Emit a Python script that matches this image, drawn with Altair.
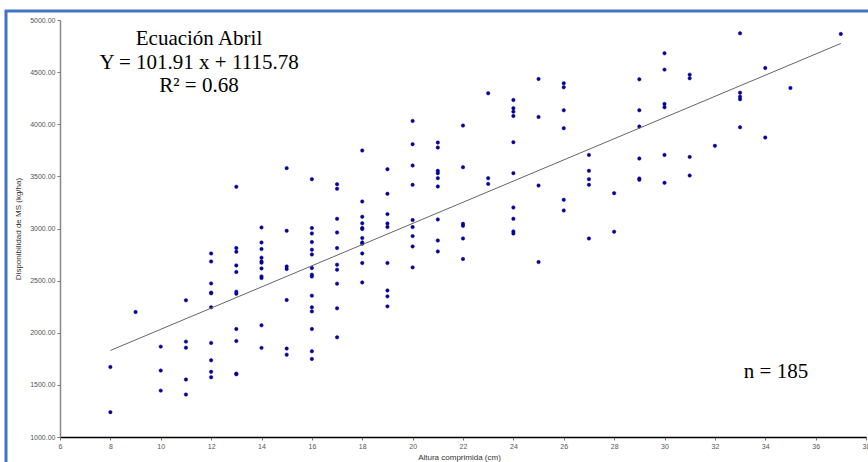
import altair as alt
import pandas as pd

# ---- data ----
col_x = [8, 9, 10, 11, 12, 13, 14, 15, 16, 17, 18, 19, 20, 21, 22, 23, 24, 25,
         26, 27, 28, 29, 30, 31, 32, 33, 34, 35, 37]
col_y = [
    [1672, 1238],
    [2199],
    [1867, 1637, 1445],
    [2311, 1915, 1857, 1551, 1407],
    [2761, 2684, 2473, 2385, 2378, 2244, 1902, 1736, 1625, 1573],
    [3400, 2812, 2777, 2646, 2583, 2394, 2375, 2036, 1921, 1608, 1602],
    [3010, 2866, 2803, 2720, 2684, 2672, 2617, 2540, 2525, 2071, 1855],
    [3579, 2978, 2636, 2611, 2314, 1848, 1790],
    [3473, 3004, 2953, 2870, 2796, 2751, 2621, 2557, 2540, 2356, 2244, 2205, 2036, 1822, 1749],
    [3425, 3381, 3093, 2962, 2812, 2653, 2605, 2471, 2234, 1956],
    [3748, 3259, 3112, 3050, 3005, 2995, 2908, 2866, 2854, 2761, 2669, 2483],
    [3569, 3333, 3138, 3048, 3015, 2669, 2406, 2349, 2253],
    [4032, 3809, 3604, 3419, 3081, 3014, 2927, 2828, 2627],
    [3824, 3776, 3553, 3531, 3483, 3403, 3087, 2885, 2780],
    [3987, 3588, 3045, 3026, 2904, 2707],
    [4297, 3483, 3428],
    [4233, 4154, 4121, 4080, 3828, 3531, 3201, 3093, 2972, 2952],
    [4434, 4070, 3412, 2678],
    [4393, 4355, 4134, 3962, 3275, 3173],
    [3706, 3553, 3473, 3419, 2904],
    [3339, 2969],
    [4431, 4134, 3978, 3671, 3479, 3467],
    [4681, 4524, 4195, 4163, 3706, 3438],
    [4476, 4441, 3687, 3508],
    [3793],
    [4872, 4303, 4265, 4240, 3971],
    [4540, 3872],
    [4348],
    [4866],
]

line_x = [8, 37]
line_y = [1830, 4775]

x_ticks = list(range(6, 39, 2))
y_ticks = list(range(1000, 5001, 500))

title_lines = ["Ecuación Abril", "Y = 101.91 x + 1115.78", "R\u00b2 = 0.68"]
n_label = "n = 185"
x_title = "Altura comprimida (cm)"
y_title = "Disponibilidad de MS (kg/ha)"

# ---- build tables ----
pts = pd.DataFrame(
    [(x, y) for x, ys in zip(col_x, col_y) for y in ys], columns=["x", "y"]
)
line_df = pd.DataFrame({"x": line_x, "y": line_y})

xscale = alt.Scale(domain=[6, 38], nice=False, zero=False)
yscale = alt.Scale(domain=[1000, 5000], nice=False, zero=False)

W, H = 806, 417

x_axis = alt.Axis(
    values=x_ticks, format="d", grid=False, title=x_title,
    domainColor="#000000", domainWidth=1.5, tickColor="#777777", tickSize=3,
    labelFont="Liberation Sans", labelFontSize=7, labelColor="#555555",
    labelPadding=2, labelFlush=False,
    titleFont="Liberation Sans", titleFontSize=8, titleFontWeight="normal",
    titleColor="#333333", titleX=399, titleY=20, titleBaseline="middle",
)
y_axis = alt.Axis(
    values=y_ticks, format=".2f", grid=False, title=y_title,
    domainColor="#888888", domainWidth=1.5, tickColor="#777777", tickSize=3,
    labelFont="Liberation Sans", labelFontSize=7, labelColor="#555555",
    labelPadding=2,
    titleFont="Liberation Sans", titleFontSize=8, titleFontWeight="normal",
    titleColor="#333333", titleX=-42, titleY=H / 2, titleAngle=270,
    titleAlign="center", titleBaseline="middle",
)

points = alt.Chart(pts).mark_point(
    filled=True, shape="circle", size=12, color="#0000b0", opacity=1,
    stroke="#000060", strokeWidth=0.5,
).encode(
    x=alt.X("x:Q", scale=xscale, axis=x_axis),
    y=alt.Y("y:Q", scale=yscale, axis=y_axis),
)

reg = alt.Chart(line_df).mark_line(color="#666666", strokeWidth=1).encode(
    x=alt.X("x:Q", scale=xscale),
    y=alt.Y("y:Q", scale=yscale),
)

one = pd.DataFrame({"a": [0]})
text_style = dict(font="Liberation Serif", fontSize=21, color="#000000",
                  align="center", baseline="middle")
ann_y = [19, 43, 66]
ann_layers = [
    alt.Chart(one).mark_text(text=t, **text_style).encode(
        x=alt.value(139), y=alt.value(yy))
    for t, yy in zip(title_lines, ann_y)
]

n_text = alt.Chart(one).mark_text(text=n_label, **text_style).encode(
    x=alt.value(716), y=alt.value(352))

border_left = alt.Chart(one).mark_rule(
    color="#4472C4", strokeWidth=3
).encode(x=alt.value(-54), y=alt.value(-10), y2=alt.value(442))
border_top = alt.Chart(one).mark_rule(
    color="#4472C4", strokeWidth=3
).encode(x=alt.value(-55), x2=alt.value(808), y=alt.value(-9))

chart = alt.layer(points, reg, border_left, border_top, *ann_layers, n_text).properties(
    width=W, height=H,
    autosize=alt.AutoSizeParams(type="none"),
    padding={"left": 60, "top": 20, "right": 2, "bottom": 25},
    background="white",
).configure_view(stroke=None).configure_axis(grid=False)

chart.save("out.html", embed_options={"renderer": "svg", "actions": False})
